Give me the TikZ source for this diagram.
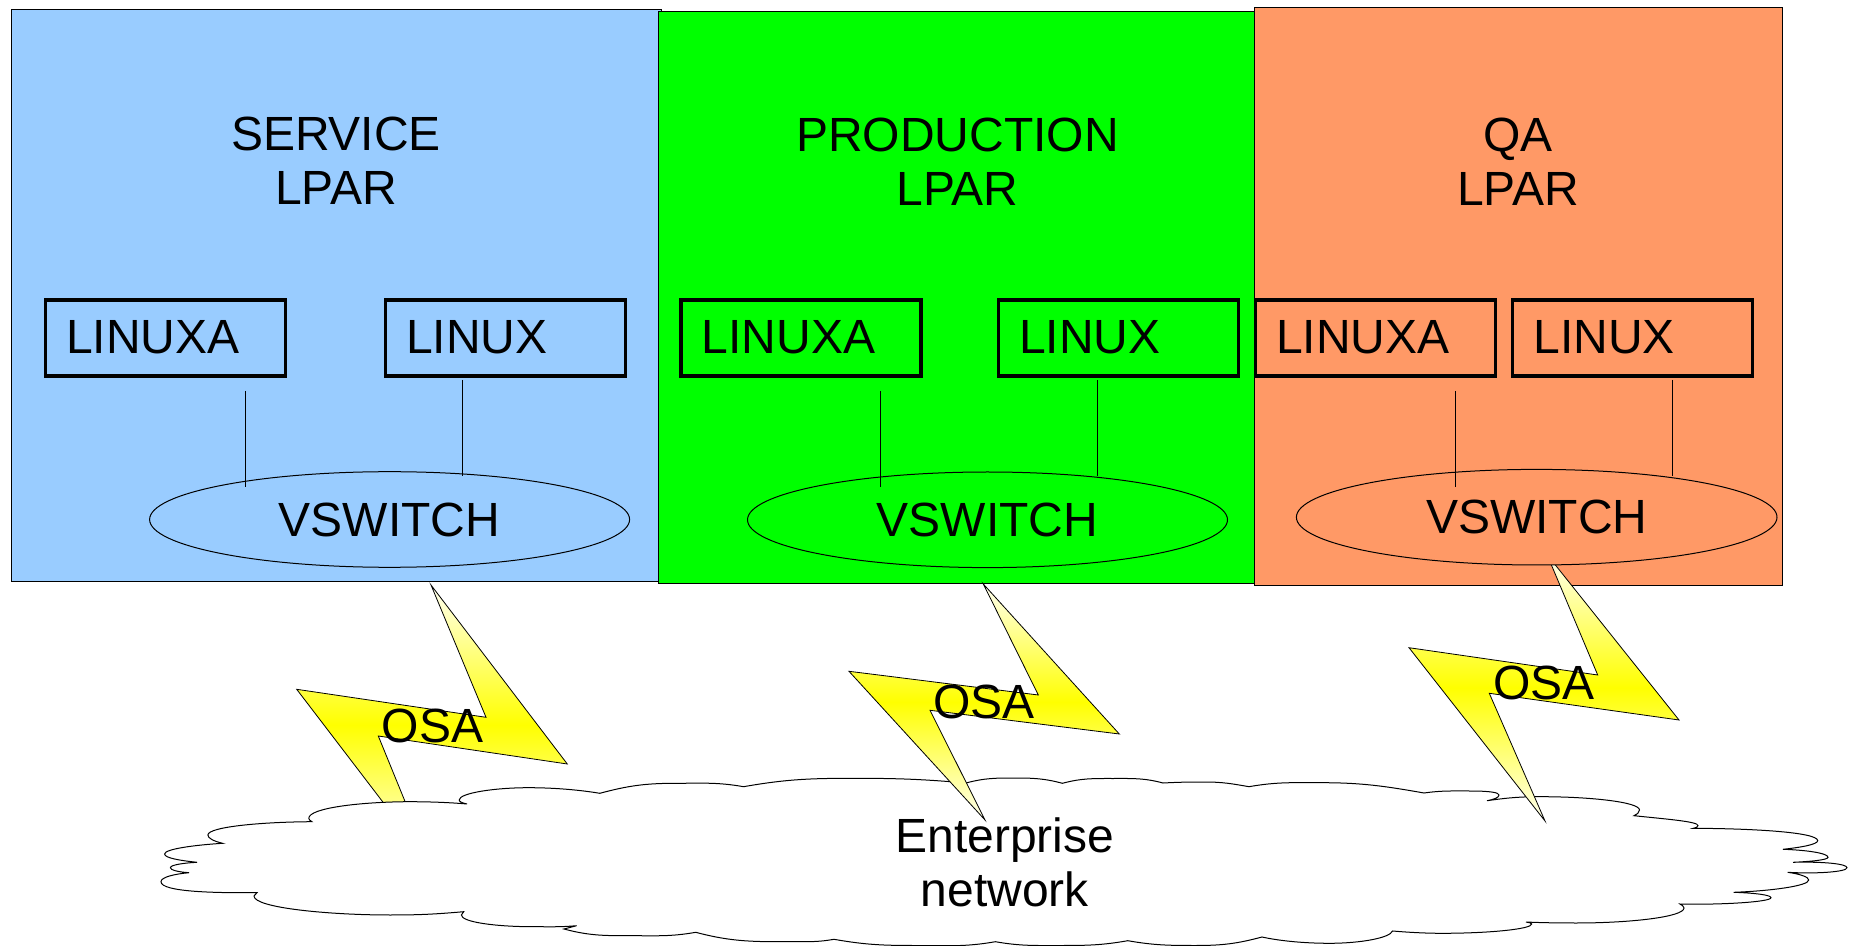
\documentclass[tikz,border=0pt]{standalone}
\usepackage{fontspec}
\setmainfont{Liberation Sans}
\usetikzlibrary{shapes.geometric}
\definecolor{lparblue}{HTML}{99CCFF}
\definecolor{lpargreen}{HTML}{00FF00}
\definecolor{lparorange}{HTML}{FF9966}
\begin{document}
\begin{tikzpicture}[x=.5pt,y=-.5pt]
	\tikzset{
	every node/.style={font=\fontsize{24}{27.15}\selectfont,inner sep=0pt},
	lpar/.style={draw,line width=.5pt,anchor=north west,minimum width=#1},
	guest/.style={draw,line width=1.8pt,anchor=north west,minimum height=37.8pt,text width=99pt,inner xsep=10.5pt,align=left,text depth=.8pt},
	vswitch/.style={draw,ellipse,line width=.5pt,minimum width=240pt,minimum height=47.8pt},
	bolt/.style={draw,line width=.4pt,top color=yellow!5,bottom color=yellow!5,middle color=yellow},
	link/.style={draw,line width=.5pt}
}
\useasboundingbox (0,0) rectangle (1854,946);

\node[lpar=325pt,minimum height=285.6pt,fill=lparblue] (service) at (11,9.5) {};
\node[lpar=298.2pt,minimum height=285.8pt,fill=lpargreen] (production) at (657.5,11) {};
\node[lpar=264pt,minimum height=289pt,fill=lparorange] (qa) at (1254,7) {};

\node[align=center] (servicetitle) at (336,161) {SERVICE\\LPAR};
\node[align=center] (productiontitle) at (957.6,161.5) {PRODUCTION\\LPAR};
\node[align=center] (qatitle) at (1518,161.5) {QA\\LPAR};

\path[bolt] (431,585) -- (567.3,764) -- (378.3,736) -- (431,865) -- (296.7,689.3) -- (486,717.3) -- cycle;

\path[draw,fill=white,line width=.5pt] (257,892.7) .. controls (215,893) and (161,892) .. (161,881.7) .. controls (161,877) and (175,874) .. (189,872.7)
	.. controls (178,872) and (170.4,870) .. (170.4,867.7) .. controls (170.4,865) and (183,863) .. (197,862.3)
	.. controls (180,860.5) and (164.6,858) .. (164.6,854) .. controls (164.6,849) and (195,845) .. (222.6,843.3)
	.. controls (213,841) and (207.9,838) .. (207.9,835) .. controls (207.9,827) and (260,822) .. (311.9,821.7)
	.. controls (310,820.5) and (308.8,819.5) .. (308.8,818.3) .. controls (308.8,808) and (360,802) .. (407.9,801.7) .. controls (430,801.7) and (450,802.5) .. (467,804)
	.. controls (462,803) and (459.2,801.5) .. (459.2,800) .. controls (459.2,793) and (495,787.7) .. (528.4,787.7) .. controls (555,787.7) and (580,790) .. (599.8,793.3)
	to[out=15,in=180] (675.7,783.3) to[out=0,in=170] (743.6,786.7)
	to[out=10,in=180] (853,778.3) to[out=0,in=175] (966,783)
	to[out=15,in=180] (1014,778) to[out=0,in=165] (1062.4,783.3)
	to[out=15,in=180] (1113,778.5) to[out=0,in=165] (1163,783)
	to[out=3,in=180] (1205,782) to[out=0,in=170] (1249,786.7)
	to[out=10,in=180] (1321,782.7) to[out=0,in=170] (1424,793)
	to[out=8,in=180] (1470,791) .. controls (1490,791) and (1499,792.5) .. (1499,795) .. controls (1499,797.5) and (1494,799.5) .. (1487,800.7)
	to[out=8,in=180] (1540.7,796.7) .. controls (1590,796.7) and (1639.5,802) .. (1639.5,810) .. controls (1639.5,812.5) and (1637,814.5) .. (1634,815.7)
	.. controls (1665,819) and (1698,821.5) .. (1698,825.5) .. controls (1698,827) and (1696,828) .. (1693.3,828.3)
	.. controls (1750,828.5) and (1817.7,832) .. (1817.7,840.7) .. controls (1817.7,844.5) and (1800,847.5) .. (1783,849.3)
	.. controls (1805,850) and (1828,853) .. (1828,857.3) .. controls (1828,860) and (1810,861.5) .. (1793,862.3)
	.. controls (1825,861.5) and (1847,864) .. (1847,867.7) .. controls (1847,872) and (1815,874) .. (1787.6,872.3)
	.. controls (1800,874) and (1808.7,877) .. (1808.7,880) .. controls (1808.7,886) and (1770,891) .. (1733.7,892.3)
	.. controls (1755,893) and (1771,895) .. (1771,897.7) .. controls (1771,902) and (1720,905) .. (1680,904)
	.. controls (1682,905) and (1684,906.5) .. (1684,908) .. controls (1684,917) and (1630,923) .. (1576.6,923) .. controls (1558,923) and (1540,922.7) .. (1526,922)
	.. controls (1529,922.5) and (1531.7,923) .. (1531.7,924) .. controls (1531.7,929) and (1490,933.3) .. (1442,933.3) .. controls (1425,933.3) and (1408,932.3) .. (1392.5,931)
	.. controls (1390,938) and (1360,943.3) .. (1329.6,943.3) .. controls (1305,943.3) and (1280,941) .. (1262,937)
	to[out=195,in=0] (1196,945.5) to[out=180,in=-10] (1127.8,940.7)
	to[out=190,in=0] (1060,945.5) to[out=180,in=-10] (995.4,941.7)
	to[out=190,in=0] (915,945.5) to[out=180,in=-10] (834,939.3)
	to[out=190,in=0] (795.7,941.7) to[out=180,in=-15] (695.8,932.3)
	to[out=190,in=0] (631,935.7) to[out=180,in=-15] (564,929) -- (576.6,925.7)
	to[out=-175,in=0] (532.9,926.7) .. controls (495,926.7) and (461.4,922) .. (461.4,915) -- (463.7,911.7)
	to[out=-175,in=0] (390,915) .. controls (330,915) and (254,908) .. (254,896) -- cycle;

\path[bolt] (983.3,584) -- (1119.3,734) -- (930,710.3) -- (985,820) -- (849,671.3) -- (1038.3,695) -- cycle;
\path[bolt] (1547,554.5) -- (1679,720) -- (1489.3,693.3) -- (1545,821) -- (1409,647.7) -- (1597.7,675) -- cycle;

\node[guest] (servicea) at (43.5,298.5) {LINUXA};
\node[guest] (servicel) at (383.5,298.5) {LINUX};
\node[guest] (productiona) at (679,298.5) {LINUXA};
\node[guest] (productionl) at (996.5,298.5) {LINUX};
\node[guest] (qaa) at (1253.5,298.5) {LINUXA};
\node[guest] (qal) at (1510.5,298.5) {LINUX};

\node[vswitch,fill=lparblue] (serviceswitch) at (389.6,519.5) {VSWITCH};
\node[vswitch,fill=lpargreen] (productionswitch) at (987.5,519.8) {VSWITCH};
\node[vswitch,minimum width=240.3pt,fill=lparorange] (qaswitch) at (1536.7,517.2) {VSWITCH};

\coordinate (serviceatop) at (245.4,391);
\coordinate (serviceabot) at (245.4,487);
\coordinate (serviceltop) at (462,380);
\coordinate (servicelbot) at (462,476);
\coordinate (productionatop) at (880.5,391);
\coordinate (productionabot) at (880.5,487);
\coordinate (productionltop) at (1097.5,380);
\coordinate (productionlbot) at (1097.5,476);
\coordinate (qaatop) at (1455,391);
\coordinate (qaabot) at (1455,487);
\coordinate (qaltop) at (1672,380);
\coordinate (qalbot) at (1672,476);

\draw[link] (serviceatop) -- (serviceabot);
\draw[link] (serviceltop) -- (servicelbot);
\draw[link] (productionatop) -- (productionabot);
\draw[link] (productionltop) -- (productionlbot);
\draw[link] (qaatop) -- (qaabot);
\draw[link] (qaltop) -- (qalbot);

\node (osaservice) at (432.5,726) {OSA};
\node (osaproduction) at (984,701.5) {OSA};
\node (osaqa) at (1544,683) {OSA};
\node[align=center] (enterprise) at (1004.7,862) {Enterprise\\network};
\end{tikzpicture}
\end{document}
